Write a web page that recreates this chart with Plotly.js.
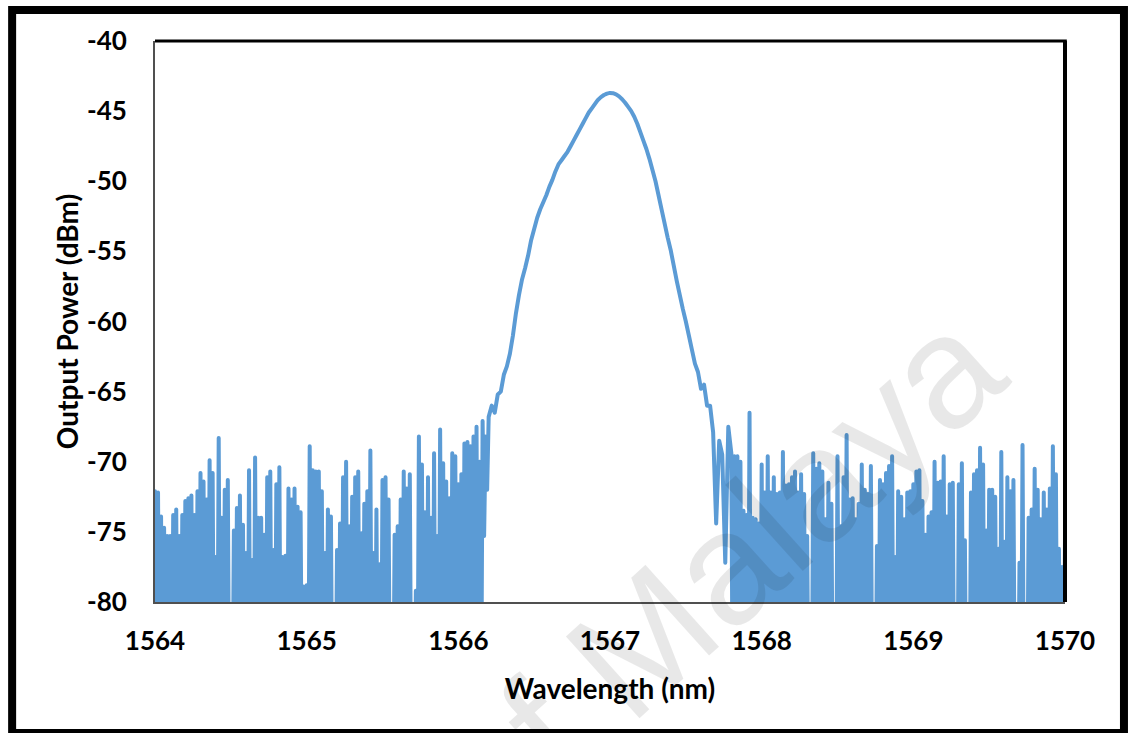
<!DOCTYPE html>
<html>
<head>
<meta charset="utf-8">
<script src="https://cdn.plot.ly/plotly-3.0.1.min.js"></script>
<style>
html,body{margin:0;padding:0;background:#fff;}
#chart{width:1128px;height:733px;}
path.js-line{stroke-linecap:round;stroke-linejoin:round;}
</style>
</head>
<body>
<div id="chart"></div>
<script>
// ---- Data ----
// Left noise floor: 1564.00 .. 1566.19 nm, step 0.01 nm (-90 = below OSA floor)
const leftStart = 1564.00;
const noiseStep = 0.01;
const leftNoise = [
  -72.1,-90,-72.2,-90,-73.9,-90,-74.7,-90,-75.3,-90,
  -75.3,-90,-73.8,-90,-73.4,-90,-75.3,-90,-73.8,-90,
  -72.8,-90,-72.6,-90,-72.4,-90,-73.8,-90,-72.1,-90,
  -70.8,-90,-71.4,-90,-72.7,-90,-69.9,-90,-70.8,-90,
  -76.8,-90,-68.3,-90,-74.0,-90,-72.0,-90,-71.3,-90,
  -90,-90,-74.9,-90,-73.3,-90,-72.4,-90,-74.5,-90,
  -76.5,-90,-70.6,-90,-77.0,-90,-69.7,-90,-74.0,-90,
  -74.0,-90,-75.2,-90,-71.1,-90,-70.7,-90,-76.3,-90,
  -71.6,-90,-70.4,-90,-76.8,-90,-76.7,-90,-71.9,-90,
  -72.7,-90,-71.9,-90,-73.2,-90,-73.6,-90,-78.9,-90,
  -78.8,-90,-68.9,-90,-70.6,-90,-70.7,-90,-70.7,-90,
  -72.1,-90,-76.5,-90,-73.4,-90,-73.9,-90,-90,-90,
  -76.3,-90,-74.4,-90,-71.1,-90,-70.0,-90,-74.6,-90,
  -72.5,-90,-71.1,-90,-70.7,-90,-75.1,-90,-73.0,-90,
  -72.1,-90,-69.2,-90,-76.5,-90,-73.4,-90,-77.3,-90,
  -71.3,-90,-71.1,-90,-72.7,-90,-90,-90,-75.2,-90,
  -74.6,-90,-72.7,-90,-70.7,-90,-71.9,-90,-70.9,-90,
  -90,-90,-79.2,-90,-68.2,-90,-70.2,-90,-73.6,-90,
  -71.1,-90,-74.0,-90,-69.4,-90,-75.3,-90,-67.7,-90,
  -70.1,-90,-71.4,-90,-72.6,-90,-69.4,-90,-69.6,-90,
  -71.6,-90,-70.9,-90,-68.7,-90,-68.6,-90,-68.9,-90,
  -68.2,-90,-67.5,-90,-70.0,-90,-67.1,-75.3,-68.2,-72.0
];
// Laser peak: 1566.20 .. 1567.78 nm, step 0.02 nm
const peakStart = 1566.20;
const peakStep = 0.02;
const peakPower = [
  -66.8,-66.0,-66.5,-65.2,-65.0,-63.8,-63.2,-62.3,-61.0,-59.4,
  -58.1,-57.0,-56.2,-55.3,-54.2,-53.4,-52.6,-52.0,-51.5,-51.0,
  -50.4,-49.9,-49.3,-48.8,-48.5,-48.2,-47.9,-47.5,-47.1,-46.7,
  -46.3,-45.9,-45.5,-45.1,-44.8,-44.5,-44.2,-44.0,-43.85,-43.75,
  -43.7,-43.72,-43.8,-43.95,-44.15,-44.4,-44.7,-45.0,-45.4,-45.9,
  -46.5,-47.1,-47.7,-48.4,-49.2,-50.0,-51.0,-52.0,-53.0,-54.0,
  -54.9,-56.0,-57.1,-58.1,-59.1,-60.0,-61.0,-62.0,-63.0,-63.6,
  -64.8,-64.5,-66.0,-66.0,-67.9,-74.4,-68.5,-69.5,-77.2,-67.5
];
// Right noise floor: 1567.80 .. 1570.00 nm, step 0.01 nm
const rightStart = 1567.80;
const rightNoise = [
  -69.4,-90,-69.6,-90,-69.6,-90,-70.0,-90,-73.5,-90,
  -73.8,-90,-66.5,-90,-74.0,-90,-74.1,-90,-74.4,-90,
  -70.2,-90,-72.2,-90,-69.6,-90,-72.2,-90,-71.1,-90,
  -72.3,-90,-72.2,-90,-69.3,-90,-71.7,-90,-71.6,-90,
  -71.1,-90,-70.7,-90,-72.2,-90,-70.9,-90,-72.3,-90,
  -75.3,-90,-90,-90,-69.4,-90,-70.5,-90,-70.1,-90,
  -70.7,-90,-74.1,-90,-71.5,-90,-73.0,-90,-90,-90,
  -69.6,-90,-74.6,-90,-71.1,-90,-68.1,-90,-72.7,-90,
  -72.6,-90,-74.1,-90,-73.0,-90,-70.2,-90,-72.0,-90,
  -72.3,-90,-70.3,-90,-90,-90,-76.0,-90,-71.3,-90,
  -71.6,-90,-70.8,-90,-70.3,-90,-69.6,-90,-76.8,-90,
  -72.1,-90,-72.5,-90,-74.1,-90,-72.2,-90,-72.1,-90,
  -71.6,-90,-70.7,-90,-70.6,-90,-72.8,-90,-75.2,-90,
  -73.9,-90,-73.6,-90,-70.0,-90,-71.5,-90,-71.4,-90,
  -69.6,-90,-73.9,-90,-71.6,-90,-71.5,-90,-90,-90,
  -71.6,-90,-70.1,-90,-75.6,-90,-90,-90,-72.2,-90,
  -70.9,-90,-70.6,-90,-69.0,-90,-70.2,-90,-74.9,-90,
  -72.0,-90,-72.0,-90,-72.5,-90,-76.2,-90,-69.3,-90,
  -75.7,-90,-71.1,-90,-72.1,-90,-71.3,-90,-90,-90,
  -77.2,-90,-68.8,-90,-90,-90,-74.0,-90,-73.4,-90,
  -70.5,-90,-72.0,-90,-74.1,-90,-72.2,-90,-73.4,-90,
  -71.9,-90,-68.9,-90,-70.9,-90,-76.2,-90,-77.5,-90,
  -75.4
];
const xTicks = [1564, 1565, 1566, 1567, 1568, 1569, 1570];
const yTicks = [-40, -45, -50, -55, -60, -65, -70, -75, -80];
const xTitle = 'Wavelength (nm)';
const yTitle = 'Output Power (dBm)';
const watermark = 'of Malaya';

// ---- Build the trace ----
const xs = [], ys = [];
leftNoise.forEach((v, i) => { xs.push(+(leftStart + i * noiseStep).toFixed(3)); ys.push(v); });
peakPower.forEach((v, i) => { xs.push(+(peakStart + i * peakStep).toFixed(3)); ys.push(v); });
rightNoise.forEach((v, i) => { xs.push(+(rightStart + i * noiseStep).toFixed(3)); ys.push(v); });

const fam = 'Lato, "Open Sans", sans-serif';
const tickFont = {family: fam, size: 26, color: '#000', weight: 'bold'};
const titleFont = {family: fam, size: 28, color: '#000', weight: 'bold'};

const trace = {
  x: xs, y: ys, type: 'scatter', mode: 'lines',
  line: {color: '#5B9BD5', width: 4, simplify: false},
  hoverinfo: 'skip'
};

const layout = {
  width: 1128, height: 733,
  margin: {l: 155, r: 63, t: 41, b: 131},
  paper_bgcolor: '#fff', plot_bgcolor: '#fff',
  showlegend: false,
  font: tickFont,
  xaxis: {
    range: [1564, 1570], tickvals: xTicks, ticktext: xTicks.map(String),
    showgrid: false, zeroline: false, showline: true, linecolor: '#505050', linewidth: 2,
    ticks: '', ticklabelstandoff: 15, tickfont: tickFont, layer: 'below traces',
    title: {text: xTitle, font: titleFont, standoff: 24}, automargin: false
  },
  yaxis: {
    range: [-80, -40], tickvals: yTicks, ticktext: yTicks.map(String),
    showgrid: false, zeroline: false, showline: true, linecolor: '#505050', linewidth: 2,
    ticks: '', ticklabelstandoff: 21, tickfont: tickFont, layer: 'below traces',
    title: {text: yTitle, font: titleFont, standoff: 0}, automargin: false
  },
  shapes: [
    {type: 'line', xref: 'paper', yref: 'paper', x0: 0, x1: 1.002, y0: 1, y1: 1, line: {color: '#000', width: 3}},
    {type: 'line', xref: 'paper', yref: 'paper', x0: 1, x1: 1, y0: 0, y1: 1, line: {color: '#000', width: 4}},
    {type: 'rect', xref: 'paper', yref: 'paper', x0: -0.157, x1: 1.0648, y0: -0.2335, y1: 1.0553,
     line: {color: '#000', width: 8}, fillcolor: 'rgba(0,0,0,0)'}
  ],
  annotations: [
    {text: watermark, xref: 'paper', yref: 'paper', x: 0.619, y: 0.053, xanchor: 'center', yanchor: 'middle',
     showarrow: false, textangle: -42,
     font: {family: 'Liberation Sans, Arial, sans-serif', size: 160, weight: 'normal', color: 'rgba(0,0,0,0.09)'}}
  ]
};

Plotly.newPlot('chart', [trace], layout, {displayModeBar: false, staticPlot: true});
</script>
</body>
</html>
